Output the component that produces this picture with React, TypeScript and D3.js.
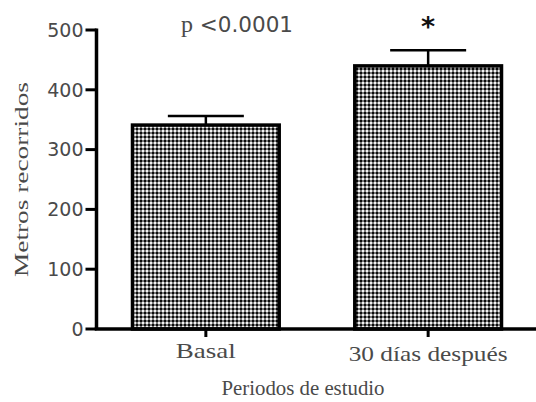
import React from "react";
import * as d3 from "d3";

const categories = ["Basal", "30 días después"];
const means = [341, 440];
const errors = [15, 26];
const yTicks = [0, 100, 200, 300, 400, 500];

const W = 536;
const H = 402;
const m = { left: 96.5, top: 30, bottom: 73 };
const catLabelLen = [60, 159];
const catLabelY = [358, 361];

export default function App() {
  const y = d3.scaleLinear().domain([0, 500]).range([329, 30]);
  const x = d3
    .scaleBand()
    .domain(categories)
    .range([132.5, 501.5])
    .paddingInner(0.34)
    .paddingOuter(0);
  const bw = x.bandwidth();
  const serif = "'Liberation Serif', 'Times New Roman', serif";
  const sans = "'DejaVu Sans', sans-serif";
  const txt = "#4a4a4a";
  return (
    <svg width={W} height={H} style={{ position: "absolute", left: 0, top: 0 }}>
      <defs>
        <pattern id="chk" width={4} height={4} patternUnits="userSpaceOnUse">
          <rect width={4} height={4} fill="#7a7a7a" />
          <rect x={0} y={0} width={2} height={2} fill="#0a0a0a" />
          <rect x={2} y={2} width={2} height={2} fill="#f2f2f2" />
        </pattern>
      </defs>
      <rect width={W} height={H} fill="#fff" />
      {categories.map((c, i) => {
        const cx = (x(c) as number) + bw / 2;
        const top = y(means[i] + errors[i]);
        return (
          <g key={c}>
            <line x1={cx} x2={cx} y1={y(means[i])} y2={top} stroke="#000" strokeWidth={2.5} />
            <line x1={cx - 38} x2={cx + 38} y1={top} y2={top} stroke="#000" strokeWidth={2.5} />
            <rect
              x={x(c)}
              y={y(means[i])}
              width={bw}
              height={y(0) - y(means[i])}
              fill="url(#chk)"
              stroke="#000"
              strokeWidth={3.5}
            />
            <line x1={cx} x2={cx} y1={y(0)} y2={y(0) + 8} stroke="#000" strokeWidth={3} />
            <text
              x={cx}
              y={catLabelY[i]}
              textAnchor="middle"
              fontFamily={serif}
              fontSize={22}
              fill={txt}
              textLength={catLabelLen[i]}
              lengthAdjust="spacingAndGlyphs"
            >
              {c}
            </text>
          </g>
        );
      })}
      <line x1={m.left - 1.75} x2={W} y1={y(0)} y2={y(0)} stroke="#000" strokeWidth={3.5} />
      <line x1={m.left} x2={m.left} y1={y(500) - 1.5} y2={y(0)} stroke="#000" strokeWidth={3.5} />
      {yTicks.map((t) => (
        <g key={t}>
          <line x1={m.left - 11} x2={m.left} y1={y(t)} y2={y(t)} stroke="#000" strokeWidth={3} />
          <text x={m.left - 13} y={y(t)} dy="0.36em" textAnchor="end" fontFamily={sans} fontSize={19} fill={txt}>
            {t}
          </text>
        </g>
      ))}
      <text
        transform={`translate(28,${(y(0) + y(500)) / 2}) rotate(-90)`}
        textAnchor="middle"
        fontFamily={serif}
        fontSize={19}
        fill={txt}
        textLength={195}
        lengthAdjust="spacingAndGlyphs"
      >
        Metros recorridos
      </text>
      <text
        x={303}
        y={395}
        textAnchor="middle"
        fontFamily={serif}
        fontSize={21}
        fill={txt}
        textLength={163}
        lengthAdjust="spacingAndGlyphs"
      >
        Periodos de estudio
      </text>
      <text x={237} y={32} textAnchor="middle" fontFamily={sans} fontSize={21.5} fill={txt}>
        <tspan fontFamily={serif} fontSize={24}>p</tspan> &lt;0.0001
      </text>
      <text x={(x(categories[1]) as number) + bw / 2} y={36} textAnchor="middle" fontFamily={sans} fontSize={27} fontWeight="bold" fill="#111">
        *
      </text>
    </svg>
  );
}
